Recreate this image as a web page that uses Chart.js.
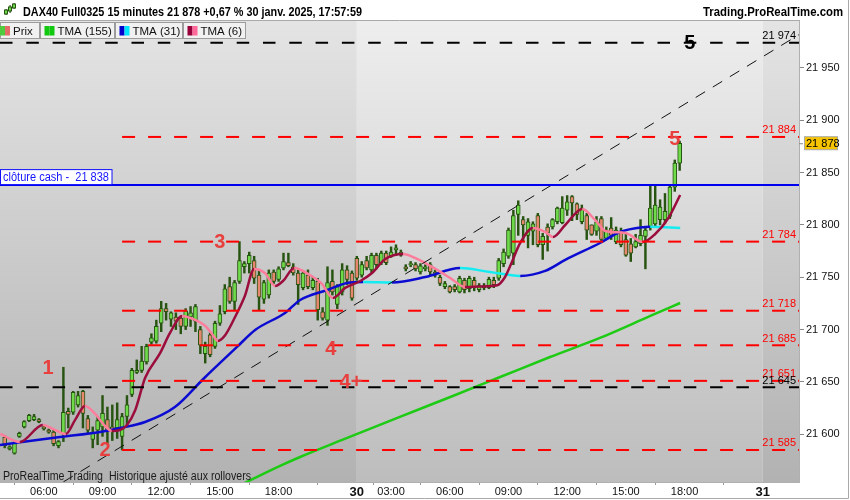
<!DOCTYPE html>
<html><head><meta charset="utf-8">
<style>html,body{margin:0;padding:0;background:#fff;overflow:hidden}#wrap{width:850px;height:500px;position:relative}</style>
<script src="https://cdn.jsdelivr.net/npm/chart.js@4.4.1/dist/chart.umd.min.js"></script>
</head><body><div id="wrap"><canvas id="c" width="850" height="500"></canvas></div>
<script>
// ---- Data (15-minute bars, index 0 = 29 janv. 04:00) ----
const openP  = [21597,21586,21582,21598,21607,21613,21614,21614,21607,21604,21602,21589,21600,21622,21621,21628,21641,21615,21595,21604,21607,21614,21607,21606,21598,21617,21638,21659,21661,21669,21688,21689,21706,21720,21710,21712,21711,21703,21712,21708,21700,21677,21695,21684,21706,21717,21741,21727,21746,21760,21763,21766,21752,21729,21733,21755,21748,21759,21764,21760,21754,21740,21752,21740,21746,21717,21709,21746,21724,21736,21757,21754,21768,21752,21766,21757,21771,21764,21773,21770,21776,21774,21760,21762,21762,21755,21758,21762,21755,21750,21741,21741,21741,21736,21747,21739,21747,21738,21742,21740,21747,21749,21763,21770,21773,21810,21805,21790,21794,21809,21781,21798,21798,21803,21802,21814,21827,21820,21803,21809,21800,21794,21806,21787,21797,21784,21793,21786,21782,21779,21782,21789,21798,21801,21805,21805,21808,21836,21859];
const highP  = [21599,21589,21593,21602,21613,21619,21619,21615,21608,21605,21604,21594,21664,21625,21641,21641,21642,21618,21607,21617,21637,21626,21628,21630,21620,21637,21663,21671,21684,21686,21696,21709,21727,21725,21717,21716,21712,21720,21722,21724,21703,21688,21697,21708,21723,21743,21750,21747,21784,21765,21774,21770,21757,21747,21757,21757,21760,21773,21773,21763,21757,21756,21757,21750,21749,21721,21760,21757,21743,21763,21761,21756,21770,21765,21770,21773,21773,21775,21775,21779,21781,21776,21762,21765,21764,21763,21762,21764,21757,21752,21746,21742,21743,21751,21749,21751,21750,21744,21744,21750,21750,21768,21777,21797,21814,21823,21808,21806,21803,21811,21792,21801,21806,21817,21827,21828,21828,21821,21819,21811,21800,21808,21808,21798,21807,21798,21797,21792,21787,21791,21805,21798,21838,21837,21824,21830,21838,21862,21880];
const lowP   = [21587,21585,21581,21597,21606,21612,21613,21611,21604,21601,21589,21587,21593,21606,21619,21626,21606,21601,21587,21590,21598,21591,21594,21596,21585,21607,21636,21658,21659,21667,21686,21687,21698,21709,21703,21700,21696,21700,21703,21698,21677,21668,21674,21682,21704,21715,21725,21719,21744,21754,21754,21744,21719,21725,21730,21744,21746,21757,21760,21752,21724,21738,21739,21738,21709,21709,21704,21733,21720,21733,21743,21728,21747,21750,21757,21754,21758,21762,21762,21769,21771,21770,21756,21760,21756,21753,21756,21752,21750,21742,21739,21735,21736,21735,21735,21736,21737,21736,21738,21739,21740,21747,21760,21768,21762,21790,21784,21778,21781,21779,21767,21775,21796,21801,21801,21809,21804,21805,21801,21786,21790,21790,21783,21786,21786,21782,21779,21770,21765,21778,21780,21758,21795,21798,21800,21801,21806,21832,21852];
const closeP = [21589,21588,21592,21601,21612,21618,21617,21612,21605,21602,21591,21593,21621,21619,21640,21637,21620,21604,21602,21613,21620,21604,21603,21614,21617,21628,21661,21661,21670,21684,21692,21703,21720,21717,21716,21708,21703,21718,21716,21722,21685,21684,21676,21706,21715,21739,21727,21745,21766,21763,21771,21749,21731,21745,21754,21746,21758,21765,21761,21754,21743,21754,21741,21747,21719,21711,21745,21736,21741,21757,21748,21730,21749,21762,21759,21771,21762,21773,21764,21774,21778,21771,21758,21763,21758,21761,21760,21755,21752,21744,21744,21736,21738,21749,21738,21749,21741,21742,21740,21748,21743,21766,21774,21795,21809,21819,21800,21803,21801,21781,21789,21792,21805,21816,21816,21822,21821,21810,21816,21795,21791,21803,21786,21795,21790,21795,21781,21771,21773,21784,21790,21795,21816,21819,21817,21813,21836,21859,21878];

// TMA (155)
const tma155X = [49.1,56.3,60.4,69.0,80.8,91.1,101.3,111.5,121.7,132.0,138.1];
const tma155Y = [21553.6,21569.8,21578.3,21594.6,21616.6,21635.6,21654.7,21673.8,21692.0,21713.0,21725.4];
// TMA (31)
const tma31X = [-0.96,11.3,19.5,23.6,28.7,34.8,40.6,47.5,51.2,57.3,60.4,65.9,70.0,73.3,79.2,86.0,93.1,99.2,105.4,110.5,114.6,121.7,125.8,130.9,132.0,138.1];
const tma31Y = [21589.8,21597.4,21602.2,21606.0,21611.7,21626.0,21652.8,21683.4,21699.6,21715.9,21728.3,21737.8,21744.5,21745.5,21745.0,21750.2,21758.8,21755.0,21751.2,21756.0,21766.5,21782.7,21793.2,21798.0,21798.3,21797.0];
// TMA (6)
const tma6X = [-0.9,3.1,7.8,10.3,12.5,14.4,16.4,18.5,20.5,21.9,23.6,25.0,26.7,28.7,31.8,33.8,36.3,38.9,41.0,42.4,43.6,45.1,47.1,49.1,51.0,53.2,55.3,56.9,59.2,62.4,64.9,67.1,69.6,72.7,75.1,77.8,81.5,83.9,87.0,91.1,94.1,97.2,100.7,102.3,103.7,105.4,108.0,110.5,112.1,114.6,118.1,120.7,122.8,126.9,130.5,133.0,135.7,138.1];
const tma6Y = [21600.3,21592.6,21608.9,21604.1,21600.3,21613.7,21627.0,21619.4,21607.9,21603.2,21604.1,21608.9,21623.2,21653.8,21677.7,21696.8,21713.0,21709.2,21703.5,21695.8,21689.2,21694.8,21712.0,21732.1,21757.9,21754.0,21741.6,21746.4,21758.8,21752.1,21743.5,21730.2,21739.8,21746.4,21754.0,21767.4,21772.2,21768.4,21760.8,21749.3,21740.7,21741.2,21742.4,21750.2,21764.5,21782.7,21797.0,21793.2,21788.4,21799.9,21815.2,21804.7,21794.2,21792.3,21783.7,21791.3,21806.6,21828.5];

// Levels
const levelsRed   = [21884, 21784, 21718, 21685, 21651, 21585];
const levelsBlack = [21974, 21645];
const cashClose   = 21838;
const lastPrice   = 21878;
const trendStart  = [12, 21554.5];
const trendEnd    = [162.4, 21981.7];

// Axis ticks
const yTicks = [21600, 21650, 21700, 21750, 21800, 21850, 21900, 21950];
const xTickPos = [8, 20, 32, 44, 56, 72, 79, 91, 103, 115, 127, 139, 155];
const xTickLabels = ['06:00','09:00','12:00','15:00','18:00','30','03:00','06:00','09:00','12:00','15:00','18:00','31'];

// ---- Styling / config ----
const FONT = '"Liberation Sans", Arial, sans-serif';
const X_MIN = -0.96, X_MAX = 162.4, Y_MIN = 21554.4, Y_MAX = 21995.7;
const RED_START = 24.0;
const fmt = v => String(Math.round(v)).replace(/\B(?=(\d{3})+(?!\d))/g, ' ');

const annotations = [
  {t:'1', x:8.85, y:21664, c:'#e8403e'},
  {t:'2', x:20.5, y:21586, c:'#e8403e'},
  {t:'3', x:44.0, y:21785, c:'#e8403e'},
  {t:'4', x:66.7, y:21683, c:'#e8403e'},
  {t:'4+', x:70.8, y:21651, c:'#e8403e'},
  {t:'5', x:137.0, y:21883, c:'#e8403e'},
  {t:'5', x:140.1, y:21975, c:'#000'}
];

const WICK = '#285412', UP = '#6fdb4a', DOWN = '#e8876f';
const wickData = openP.map((o, i) => ({x: i, y: [lowP[i], highP[i]]}));
const bodyData = openP.map((o, i) => ({x: i, y: [Math.min(o, closeP[i]), Math.max(o, closeP[i])]}));
const pts = (xs, ys) => xs.map((x, i) => ({x, y: ys[i]}));

const datasets = [];
datasets.push({type:'line', data:[{x:X_MIN,y:cashClose},{x:X_MAX,y:cashClose}], borderColor:'#0000f0', borderWidth:2, pointRadius:0, order:0});
levelsRed.forEach(v => datasets.push({type:'line', data:[{x:RED_START,y:v},{x:X_MAX,y:v}], borderColor:'#ff0000', borderWidth:2, borderDash:[13,13], pointRadius:0, order:1}));
levelsBlack.forEach(v => datasets.push({type:'line', data:[{x:X_MIN,y:v},{x:X_MAX,y:v}], borderColor:'#000', borderWidth:2, borderDash:[12.5,13.8], pointRadius:0, order:1}));
datasets.push({type:'line', data:[{x:trendStart[0],y:trendStart[1]},{x:trendEnd[0],y:trendEnd[1]}], borderColor:'#111', borderWidth:1, borderDash:[11,9], pointRadius:0, order:2});
datasets.push({type:'line', data:pts(tma6X, tma6Y), borderWidth:2.5, pointRadius:0, cubicInterpolationMode:'monotone', order:3,
  borderColor:'#9b0d3c', segment:{borderColor: c => c.p1.parsed.y >= c.p0.parsed.y ? '#9b0d3c' : '#ff7d9c'}});
datasets.push({type:'line', data:pts(tma31X, tma31Y), borderWidth:2.5, pointRadius:0, cubicInterpolationMode:'monotone', order:4,
  borderColor:'#0b0bd2', segment:{borderColor: c => c.p1.parsed.y > c.p0.parsed.y ? '#0b0bd2' : '#14ecf2'}});
datasets.push({type:'line', data:pts(tma155X, tma155Y), borderColor:'#1ecb14', borderWidth:2.5, pointRadius:0, cubicInterpolationMode:'monotone', order:5});
datasets.push({type:'bar', data:bodyData, grouped:false, barThickness:4, borderWidth:1, borderColor:WICK, borderSkipped:false,
  backgroundColor: c => closeP[c.dataIndex] >= openP[c.dataIndex] ? UP : DOWN, order:6});
datasets.push({type:'bar', data:wickData, grouped:false, barThickness:1.8, borderWidth:0, backgroundColor:WICK, order:7});

function fitText(ctx, t, x, y, w) {
  const m = ctx.measureText(t).width;
  ctx.save(); ctx.translate(x, y); ctx.scale(w / m, 1); ctx.fillText(t, 0, 0); ctx.restore();
}

const bgPlugin = {
  id:'bg',
  beforeDraw(chart) {
    const {ctx, chartArea:a, scales:{x}} = chart;
    ctx.save();
    ctx.fillStyle = '#fff'; ctx.fillRect(0, 0, chart.width, chart.height);
    const b1 = x.getPixelForValue(xTickPos[xTickLabels.indexOf('30')]);
    const b2 = x.getPixelForValue(xTickPos[xTickLabels.indexOf('31')]);
    const g = (t, b) => { const gr = ctx.createLinearGradient(0, a.top, 0, a.bottom); gr.addColorStop(0, t); gr.addColorStop(1, b); return gr; };
    ctx.fillStyle = g('#e4e4e4', '#b2b2b2'); ctx.fillRect(a.left, a.top, b1 - a.left, a.bottom - a.top);
    ctx.fillStyle = g('#eeeeee', '#bdbdbd'); ctx.fillRect(b1, a.top, b2 - b1, a.bottom - a.top);
    ctx.fillStyle = g('#e4e4e4', '#b2b2b2'); ctx.fillRect(b2, a.top, a.right - b2, a.bottom - a.top);
    ctx.restore();
  },
  afterDatasetsDraw(chart) {
    const {ctx, chartArea:a, scales:{x, y}} = chart;
    ctx.save();
    ctx.font = `11px ${FONT}`; ctx.textAlign = 'right'; ctx.textBaseline = 'alphabetic';
    levelsRed.forEach(v => { ctx.fillStyle = '#ff0000'; ctx.fillText(fmt(v), 796, y.getPixelForValue(v) - 3.5); });
    levelsBlack.forEach(v => { ctx.fillStyle = '#000'; ctx.fillText(fmt(v), 796, y.getPixelForValue(v) - 3.5); });
    const cy = y.getPixelForValue(cashClose);
    ctx.fillStyle = '#fff'; ctx.fillRect(0, cy - 15.5, 112, 15);
    ctx.strokeStyle = '#1010ff'; ctx.lineWidth = 1; ctx.strokeRect(0.5, cy - 15.5, 111.5, 15);
    ctx.fillStyle = '#1515ff'; ctx.textAlign = 'left'; ctx.font = `12px ${FONT}`;
    fitText(ctx, 'clôture cash -  ' + fmt(cashClose), 3, cy - 4.5, 106);
    ctx.font = `bold 20px ${FONT}`; ctx.textAlign = 'center';
    annotations.forEach(n => { ctx.fillStyle = n.c; ctx.fillText(n.t, x.getPixelForValue(n.x), y.getPixelForValue(n.y) + 7.2); });
    ctx.font = `12px ${FONT}`; ctx.textAlign = 'left'; ctx.fillStyle = '#1a1a1a';
    fitText(ctx, 'ProRealTime Trading  Historique ajusté aux rollovers', 3, 479.5, 248);
    ctx.restore();
  },
  afterDraw(chart) {
    const {ctx, chartArea:a, scales:{y}} = chart;
    ctx.save();
    ctx.fillStyle = '#fff'; ctx.fillRect(0, 0, chart.width, 20);
    ctx.strokeStyle = '#a9a9a9'; ctx.lineWidth = 1;
    ctx.beginPath(); ctx.moveTo(0, 20.5); ctx.lineTo(a.right, 20.5); ctx.stroke();
    ctx.beginPath(); ctx.moveTo(848.5, 0); ctx.lineTo(848.5, 498.5); ctx.lineTo(0, 498.5); ctx.stroke();
    [[6,9,15,10,14],[10,5,13,7,11],[14,3,9,4,8]].forEach(([cx, h, l, bt, bb]) => {
      ctx.fillStyle = WICK; ctx.fillRect(cx - 0.5, h, 1.2, l - h);
      ctx.fillStyle = UP; ctx.fillRect(cx - 1.5, bt, 3, bb - bt);
      ctx.strokeStyle = WICK; ctx.strokeRect(cx - 1.5, bt, 3, bb - bt);
    });
    ctx.fillStyle = '#000'; ctx.font = `bold 12px ${FONT}`; ctx.textAlign = 'left'; ctx.textBaseline = 'alphabetic';
    fitText(ctx, 'DAX40 Full0325 15 minutes ' + fmt(closeP[closeP.length - 1]) + ' +0,67 % 30 janv. 2025, 17:57:59', 23, 16, 339);
    fitText(ctx, 'Trading.ProRealTime.com', 843 - 140, 16, 140);
    const tabs = [[0,39,'Prix',['#4fcc3e','#e46a68'],13],[40,114,'TMA (155)',['#11c811','#11c811'],57.5],
                  [115,182,'TMA (31)',['#0000cc','#00e4ff'],132.5],[183,245,'TMA (6)',['#99003a','#ff6a9a'],200.5]];
    ctx.font = `11.5px ${FONT}`;
    tabs.forEach(([x0, x1, t, cols, tx]) => {
      ctx.fillStyle = '#f1f1f1'; ctx.fillRect(x0, 22, x1 - x0, 17);
      ctx.strokeStyle = '#9c9c9c'; ctx.strokeRect(x0 + 0.5, 22.5, x1 - x0, 16);
      ctx.fillStyle = '#111'; ctx.fillText(t, tx, 35);
      const ix = tx - 13;
      ctx.fillStyle = cols[0]; ctx.fillRect(ix, 26, 5, 9.5);
      ctx.fillStyle = cols[1]; ctx.fillRect(ix + 5, 26, 5, 9.5);
    });
    const py = y.getPixelForValue(lastPrice);
    ctx.strokeStyle = '#888'; ctx.beginPath(); ctx.moveTo(a.right, py + 0.5); ctx.lineTo(a.right + 4, py + 0.5); ctx.stroke();
    ctx.fillStyle = '#f6c400'; ctx.fillRect(804.5, py - 6.5, 33, 13);
    ctx.strokeStyle = '#a8a8a8'; ctx.strokeRect(804.5, py - 6.5, 33, 13);
    ctx.fillStyle = '#000'; ctx.font = `11px ${FONT}`; ctx.textBaseline = 'middle';
    ctx.fillText(fmt(lastPrice), 806, py + 0.5);
    ctx.restore();
  }
};

new Chart(document.getElementById('c'), {
  type:'bar',
  data:{datasets},
  options:{
    responsive:false, animation:false, devicePixelRatio:1,
    layout:{padding:{top:20, left:0, right:0, bottom:0}},
    plugins:{legend:{display:false}, tooltip:{enabled:false}},
    scales:{
      x:{type:'linear', min:X_MIN, max:X_MAX, offset:false,
        afterBuildTicks: s => { s.ticks = xTickPos.map(v => ({value:v})); },
        afterFit: s => { s.height = 18; },
        grid:{drawOnChartArea:false, drawTicks:true, tickLength:3, tickColor:'#999'},
        border:{display:true, color:'#b0b0b0'},
        ticks:{autoSkip:false, maxRotation:0, padding:0, color:'#111',
          callback: v => xTickLabels[xTickPos.indexOf(v)],
          font: c => { const l = xTickLabels[xTickPos.indexOf(c.tick && c.tick.value)]; return (l === '30' || l === '31') ? {family:FONT, size:13, weight:'bold'} : {family:FONT, size:11}; }}
      },
      y:{type:'linear', position:'right', min:Y_MIN, max:Y_MAX,
        afterBuildTicks: s => { s.ticks = yTicks.map(v => ({value:v})); },
        afterFit: s => { s.width = 51; },
        grid:{drawOnChartArea:false, drawTicks:true, tickLength:5, tickColor:'#888'},
        border:{display:true, color:'#b0b0b0'},
        ticks:{padding:2, color:'#111', font:{family:FONT, size:11}, callback: v => fmt(v)}
      }
    }
  },
  plugins:[bgPlugin]
});
</script></body></html>
